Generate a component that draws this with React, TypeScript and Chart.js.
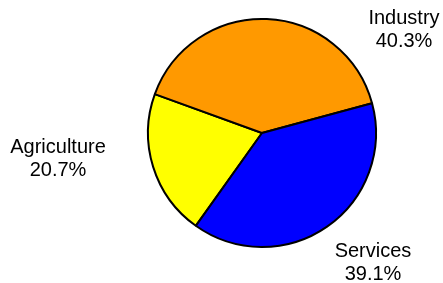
import React, { useEffect, useRef } from "react";
import { Chart, registerables } from "chart.js";

Chart.register(...registerables);

const categories = ["Agriculture", "Industry", "Services"];
const shares = [20.7, 40.3, 39.1];
const shareLabels = ["20.7%", "40.3%", "39.1%"];
const colors = ["#FFFF00", "#FF9900", "#0000FF"];
// label anchor offsets (first-line baseline) relative to pie centre, in px
const labelOffsets = [
  { dx: -204, dy: 20 },
  { dx: 142, dy: -109 },
  { dx: 111, dy: 124 },
];

const labelPlugin = {
  id: "outerLabels",
  afterDraw(chart: any) {
    const meta = chart.getDatasetMeta(0);
    const arc = meta.data[0];
    if (!arc) return;
    const { x, y } = arc.getProps(["x", "y"], true);
    const ctx = chart.ctx;
    ctx.save();
    ctx.fillStyle = "#000";
    ctx.font = "20px 'Liberation Sans', Arial, sans-serif";
    ctx.textAlign = "center";
    ctx.textBaseline = "alphabetic";
    categories.forEach((c, i) => {
      const o = labelOffsets[i];
      ctx.fillText(c, x + o.dx, y + o.dy);
      ctx.fillText(shareLabels[i], x + o.dx, y + o.dy + 23);
    });
    ctx.restore();
  },
};

export default function App() {
  const ref = useRef<HTMLCanvasElement>(null);
  useEffect(() => {
    document.body.style.margin = "0";
    const chart = new Chart(ref.current!, {
      type: "pie",
      data: {
        labels: categories,
        datasets: [
          {
            data: shares,
            backgroundColor: colors,
            borderColor: "#000",
            borderWidth: 2,
          },
        ],
      },
      options: {
        responsive: false,
        animation: false,
        rotation: 215.5,
        layout: { padding: { left: 147, right: 66, top: 18, bottom: 35 } },
        plugins: { legend: { display: false }, tooltip: { enabled: false } },
      },
      plugins: [labelPlugin],
    });
    return () => chart.destroy();
  }, []);
  return (
    <div style={{ width: 443, height: 283, background: "#fff" }}>
      <canvas ref={ref} width={443} height={283} />
    </div>
  );
}
